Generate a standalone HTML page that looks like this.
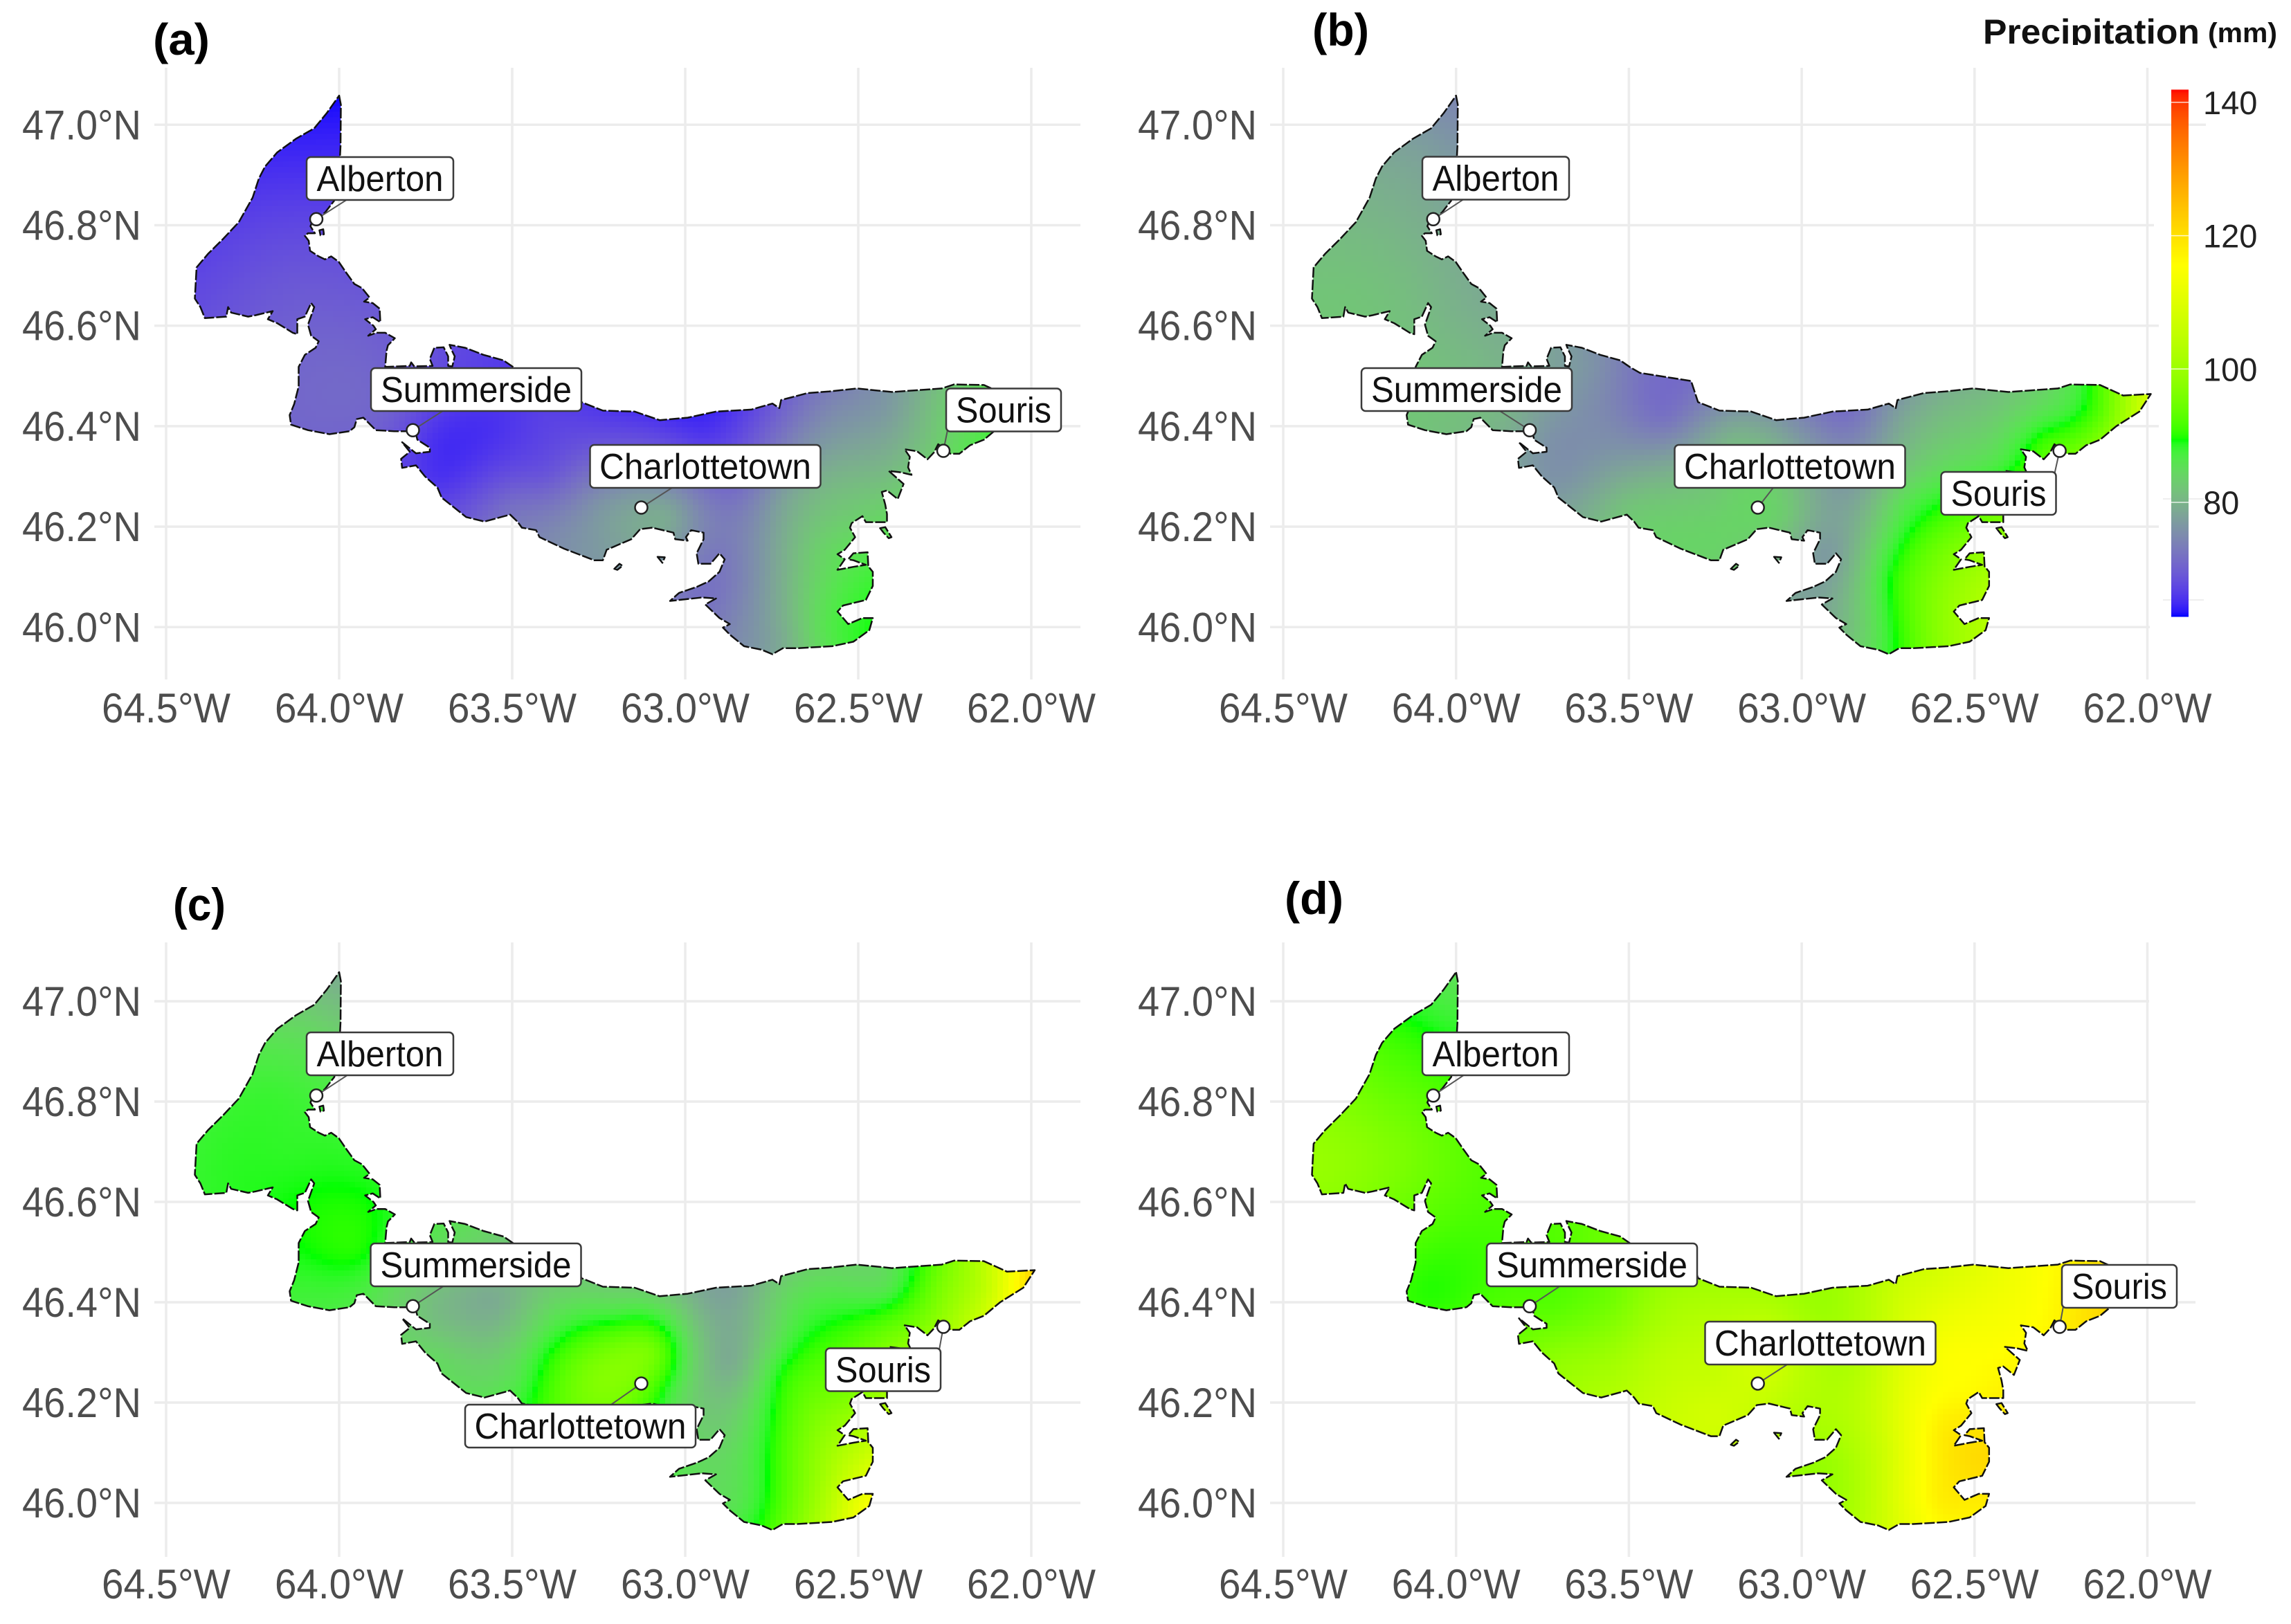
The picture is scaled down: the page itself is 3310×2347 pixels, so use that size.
<!DOCTYPE html>
<html lang="en">
<head>
<meta charset="utf-8">
<title>Precipitation maps of Prince Edward Island</title>
<style>
html,body{margin:0;padding:0;background:#fff;}
body{width:3310px;height:2347px;overflow:hidden;}
svg{display:block;font-family:"Liberation Sans",sans-serif;}
</style>
</head>
<body>
<svg id="figure" xmlns="http://www.w3.org/2000/svg" width="3310" height="2347" viewBox="0 0 3310 2347">
  <rect x="0" y="0" width="3310" height="2347" fill="#ffffff"/>
  <g id="panels"></g>
  <g id="legend">
    <text x="2865" y="63" font-size="50" font-weight="700" fill="#111" textLength="313" lengthAdjust="spacingAndGlyphs">Precipitation</text>
    <text x="3190" y="61" font-size="40" font-weight="700" fill="#111" textLength="100" lengthAdjust="spacingAndGlyphs">(mm)</text>
    <rect x="2860" y="65" width="320" height="14" fill="#ffffff"/>
  </g>
  <text x="221" y="79" font-size="64" font-weight="700" fill="#000" textLength="82" lengthAdjust="spacingAndGlyphs">(a)</text>
  <text x="1896" y="66" font-size="66" font-weight="700" fill="#000" textLength="82" lengthAdjust="spacingAndGlyphs">(b)</text>
  <text x="250" y="1330" font-size="66" font-weight="700" fill="#000" textLength="76" lengthAdjust="spacingAndGlyphs">(c)</text>
  <text x="1856" y="1321" font-size="66" font-weight="700" fill="#000" textLength="85" lengthAdjust="spacingAndGlyphs">(d)</text>
</svg>
<script>
// ---------- axis data ----------
const lonTicks = [-64.5, -64, -63.5, -63, -62.5, -62];
const lonTickLabels = ['64.5°W', '64.0°W', '63.5°W', '63.0°W', '62.5°W', '62.0°W'];
const latTicks = [47, 46.8, 46.6, 46.4, 46.2, 46];
const latTickLabels = ['47.0°N', '46.8°N', '46.6°N', '46.4°N', '46.2°N', '46.0°N'];

// ---------- colour scale data ----------
const legendTicks = [140, 120, 100, 80];
const legendLimits = [62.9, 141.9];
const colourStopValues = [63, 89.4, 115.6, 142];
const colourStopColours = ['#0000ff', '#00ff00', '#ffff00', '#ff0000'];

// ---------- towns ----------
const townNames = ['Alberton', 'Summerside', 'Charlottetown', 'Souris'];
const townLon = [-64.066, -63.787, -63.127, -62.254];
const townLat = [46.812, 46.392, 46.238, 46.351];

// ---------- coastline (lon, lat) ----------
const coast = [
[-64.000,47.058],[-63.995,47.040],[-63.996,46.958],[-63.998,46.931],[-64.001,46.893],[-64.014,46.849],
[-64.041,46.825],[-64.054,46.819],[-64.072,46.817],[-64.083,46.798],[-64.070,46.784],[-64.090,46.784],
[-64.099,46.779],[-64.088,46.769],[-64.084,46.749],[-64.059,46.738],[-64.041,46.732],[-64.023,46.738],
[-64.001,46.727],[-63.979,46.705],[-63.956,46.683],[-63.934,46.675],[-63.912,46.656],[-63.928,46.648],
[-63.903,46.645],[-63.883,46.634],[-63.881,46.607],[-63.903,46.617],[-63.925,46.613],[-63.901,46.600],
[-63.894,46.593],[-63.916,46.580],[-63.892,46.586],[-63.867,46.586],[-63.839,46.575],[-63.859,46.561],
[-63.863,46.550],[-63.867,46.518],[-63.796,46.520],[-63.792,46.527],[-63.783,46.519],[-63.730,46.520],
[-63.738,46.534],[-63.725,46.556],[-63.698,46.557],[-63.685,46.539],[-63.685,46.520],[-63.673,46.519],
[-63.666,46.539],[-63.676,46.553],[-63.681,46.562],[-63.636,46.556],[-63.583,46.542],[-63.525,46.531],
[-63.498,46.518],[-63.468,46.506],[-63.320,46.490],[-63.300,46.448],[-63.238,46.431],[-63.146,46.429],
[-63.074,46.412],[-62.993,46.417],[-62.911,46.429],[-62.809,46.433],[-62.748,46.445],[-62.728,46.436],
[-62.723,46.452],[-62.646,46.466],[-62.585,46.469],[-62.504,46.475],[-62.402,46.468],[-62.259,46.475],
[-62.223,46.483],[-62.137,46.482],[-62.070,46.461],[-61.990,46.464],[-62.023,46.429],[-62.090,46.400],
[-62.137,46.373],[-62.177,46.362],[-62.208,46.345],[-62.233,46.345],[-62.269,46.364],[-62.281,46.348],
[-62.300,46.334],[-62.330,46.350],[-62.366,46.354],[-62.351,46.339],[-62.356,46.318],[-62.346,46.303],
[-62.376,46.308],[-62.412,46.311],[-62.369,46.285],[-62.386,46.255],[-62.417,46.272],[-62.432,46.269],
[-62.422,46.244],[-62.417,46.225],[-62.417,46.209],[-62.478,46.209],[-62.488,46.221],[-62.519,46.207],
[-62.524,46.198],[-62.509,46.179],[-62.539,46.154],[-62.560,46.145],[-62.539,46.135],[-62.560,46.114],
[-62.514,46.120],[-62.478,46.124],[-62.514,46.133],[-62.529,46.135],[-62.514,46.147],[-62.473,46.149],
[-62.471,46.121],[-62.458,46.110],[-62.458,46.082],[-62.478,46.054],[-62.544,46.043],[-62.560,46.031],
[-62.529,46.006],[-62.488,46.018],[-62.458,46.018],[-62.468,45.994],[-62.514,45.971],[-62.575,45.962],
[-62.677,45.958],[-62.718,45.958],[-62.748,45.946],[-62.779,45.955],[-62.830,45.962],[-62.871,45.985],
[-62.891,45.999],[-62.871,46.006],[-62.901,46.018],[-62.942,46.045],[-62.911,46.057],[-62.952,46.059],
[-63.044,46.052],[-63.018,46.068],[-62.967,46.080],[-62.932,46.091],[-62.901,46.110],[-62.886,46.135],
[-62.901,46.147],[-62.927,46.126],[-62.962,46.126],[-62.967,46.147],[-62.947,46.175],[-62.947,46.188],
[-62.983,46.193],[-62.998,46.179],[-62.993,46.172],[-63.029,46.175],[-63.034,46.188],[-63.095,46.198],
[-63.130,46.195],[-63.156,46.175],[-63.227,46.154],[-63.238,46.133],[-63.263,46.133],[-63.350,46.156],
[-63.421,46.179],[-63.431,46.193],[-63.472,46.198],[-63.485,46.210],[-63.506,46.224],[-63.580,46.210],
[-63.633,46.219],[-63.704,46.258],[-63.716,46.278],[-63.752,46.300],[-63.778,46.322],[-63.818,46.317],
[-63.821,46.335],[-63.796,46.349],[-63.818,46.368],[-63.778,46.346],[-63.738,46.349],[-63.738,46.357],
[-63.774,46.373],[-63.778,46.384],[-63.792,46.390],[-63.841,46.390],[-63.894,46.392],[-63.930,46.417],
[-63.949,46.414],[-63.956,46.398],[-63.970,46.390],[-64.028,46.384],[-64.090,46.392],[-64.139,46.403],
[-64.143,46.422],[-64.130,46.444],[-64.117,46.479],[-64.117,46.518],[-64.099,46.542],[-64.068,46.556],
[-64.059,46.569],[-64.081,46.580],[-64.090,46.602],[-64.072,46.637],[-64.081,46.645],[-64.099,46.618],
[-64.121,46.613],[-64.121,46.583],[-64.134,46.586],[-64.179,46.605],[-64.206,46.613],[-64.192,46.629],
[-64.241,46.621],[-64.263,46.618],[-64.312,46.626],[-64.321,46.637],[-64.326,46.618],[-64.388,46.615],
[-64.401,46.637],[-64.417,46.654],[-64.412,46.716],[-64.379,46.743],[-64.335,46.773],[-64.290,46.806],
[-64.250,46.855],[-64.232,46.893],[-64.214,46.917],[-64.179,46.945],[-64.125,46.972],[-64.072,46.993],
[-64.036,47.023]
];
const isletEast = [[-62.437,46.197],[-62.422,46.199],[-62.404,46.179],[-62.412,46.177],[-62.427,46.188]];
const isletHarbour = [[-63.205,46.116],[-63.190,46.126],[-63.181,46.122],[-63.196,46.114]];
const isletBay = [[-63.080,46.140],[-63.059,46.139],[-63.066,46.128]];
const isletAlberton = [[-64.057,46.790],[-64.046,46.792],[-64.044,46.782],[-64.054,46.780]];

// ---------- precipitation read at sample locations (mm) ----------
const sampleLon = [-64,-64.1,-64.2,-64.35,-64.15,-64,-63.95,-64.08,-63.85,-63.72,-63.6,-63.55,-63.7,-63.4,-63.4,-63.5,-63.2,-63.25,-63.25,-63.1,-63.05,-62.95,-62.87,-62.87,-62.92,-62.95,-62.85,-62.72,-62.72,-62.75,-62.72,-62.58,-62.58,-62.6,-62.6,-62.47,-62.5,-62.42,-62.42,-62.25,-62.3,-62.13,-62.03,-62.52];
const sampleLat = [47.03,46.93,46.82,46.68,46.7,46.62,46.5,46.43,46.42,46.38,46.52,46.4,46.3,46.42,46.3,46.24,46.38,46.25,46.17,46.3,46.22,46.38,46.42,46.28,46.15,46.07,46,46.42,46.25,46.1,45.97,46.43,46.3,46.15,46,46.08,46,46.43,46.33,46.43,46.37,46.43,46.45,46.22];
const precipA = [63.5,65,67,68,69,70,71,71,70,65.5,67,65.5,65.5,67,69,72,68,76,77,74,79,66,66,71,73,72,75,71,78,78,79,75,80,84,86,88,88.5,77,80,83,82,86,89,83];
const precipB = [75,78,80,82,81,80,81,82,80,76,76,75,76,72,80,82,80,83,84,83,83,75,72,77,77,78,82,78,85,89,90,81,86,95,98,102,102,83,87,87,91,93,105,93];
const precipC = [80,85,88,88.5,88.5,89.5,90,88,85,81,84,79,84,83,89,86,87,97,95,96,88,80,78,79,83,85,86,84,90,90,93,86,92,98,102,108,112,86,95,97,96,105,118,96];
const precipD = [86,90,94,99,96,93,91,90,92,93,94,95,98,100,104,103,103,106,108,108,105,100,101,102,102,99,102,107,110,108,110,110,115,118,118,121,118,113,115,117,116,121,122,116];

// ---------- layout ----------
const panelLayouts = [
  {id:'a', values:precipA, x0:240, kx:500, y0:180.3, ky:726, gridL:223, gridR:[1561,1561,1561,1561,1561,1561], gridT:98, gridB:982, xLabelY:1044,
   boxes:[[549,258],[688,563],[1019,674],[1450,592.5]]},
  {id:'b', values:precipB, x0:1854, kx:499.4, y0:180.3, ky:726, gridL:1835, gridR:[3187,3112,3119,3119,3119,3106], gridT:98, gridB:982, xLabelY:1044,
   boxes:[[2161,257.5],[2119,563],[2586,674],[2887.5,713]]},
  {id:'c', values:precipC, x0:240, kx:500, y0:1447, ky:725, gridL:223, gridR:[1561,1561,1561,1561,1561,1561], gridT:1362, gridB:2250, xLabelY:2310,
   boxes:[[549,1523],[687.5,1828],[838.5,2061],[1276,1979.5]]},
  {id:'d', values:precipD, x0:1854, kx:499.4, y0:1447, ky:725, gridL:1835, gridR:[3105,3105,3172,3172,3172,3172], gridT:1362, gridB:2250, xLabelY:2310,
   boxes:[[2161,1523],[2300,1828],[2630,1941],[3062,1859]]}
];
const boxWidths = [212, 304, 333, 166];
const boxHeight = 62;
const labelWidths = [183, 276, 306, 138];
const CELL = 8;

const NS = 'http://www.w3.org/2000/svg';
function mk(tag, attrs, parent){
  const el = document.createElementNS(NS, tag);
  for (const k in attrs) el.setAttribute(k, attrs[k]);
  parent.appendChild(el);
  return el;
}

// ---------- Lab colour interpolation ----------
function hexToLab(hex){
  const c = [1,3,5].map(i => parseInt(hex.substr(i,2),16)/255).map(v => v>0.04045?Math.pow((v+0.055)/1.055,2.4):v/12.92);
  const X=(0.4124564*c[0]+0.3575761*c[1]+0.1804375*c[2])/0.95047;
  const Y=(0.2126729*c[0]+0.7151522*c[1]+0.0721750*c[2]);
  const Z=(0.0193339*c[0]+0.1191920*c[1]+0.9503041*c[2])/1.08883;
  const f=t=>t>0.008856?Math.cbrt(t):7.787*t+16/116;
  return [116*f(Y)-16,500*(f(X)-f(Y)),200*(f(Y)-f(Z))];
}
function labToRgb(l){
  const fy=(l[0]+16)/116, fx=l[1]/500+fy, fz=fy-l[2]/200;
  const g=t=>t*t*t>0.008856?t*t*t:(t-16/116)/7.787;
  const X=g(fx)*0.95047,Y=g(fy),Z=g(fz)*1.08883;
  const lin=[3.2404542*X-1.5371385*Y-0.4985314*Z,-0.9692660*X+1.8760108*Y+0.0415560*Z,0.0556434*X-0.2040259*Y+1.0572252*Z];
  const out=lin.map(v=>{v=Math.max(0,Math.min(1,v));return Math.round(255*(v>0.0031308?1.055*Math.pow(v,1/2.4)-0.055:12.92*v));});
  return 'rgb('+out.join(',')+')';
}
const stopLabs = colourStopColours.map(hexToLab);
function colourOf(v){
  const s = colourStopValues;
  if (v<=s[0]) return labToRgb(stopLabs[0]);
  for (let i=1;i<s.length;i++){
    if (v<=s[i]){
      const t=(v-s[i-1])/(s[i]-s[i-1]);
      return labToRgb(stopLabs[i-1].map((a,j)=>a+(stopLabs[i][j]-a)*t));
    }
  }
  return labToRgb(stopLabs[stopLabs.length-1]);
}

// ---------- smooth surface through the sampled precipitation (thin-plate spline) ----------
const LAT_STRETCH = 1.45;
const SMOOTHING = 0.0012;
function tpsKernel(r2){
  return r2 > 1e-12 ? 0.5 * r2 * Math.log(r2) : 0;
}
function fitSurface(values){
  const n = values.length, m = n + 3;
  const A = [];
  for (let i=0;i<m;i++){
    const row = new Array(m + 1).fill(0);
    if (i < n){
      for (let j=0;j<n;j++){
        const dx = sampleLon[i]-sampleLon[j], dy = (sampleLat[i]-sampleLat[j])*LAT_STRETCH;
        row[j] = tpsKernel(dx*dx+dy*dy) + (i===j ? SMOOTHING : 0);
      }
      row[n] = 1;
      row[n+1] = sampleLon[i]+63;
      row[n+2] = (sampleLat[i]-46.4)*LAT_STRETCH;
      row[m] = values[i];
    } else {
      for (let j=0;j<n;j++){
        row[j] = i===n ? 1 : (i===n+1 ? sampleLon[j]+63 : (sampleLat[j]-46.4)*LAT_STRETCH);
      }
    }
    A.push(row);
  }
  for (let c=0;c<m;c++){
    let piv=c;
    for (let r=c+1;r<m;r++) if (Math.abs(A[r][c])>Math.abs(A[piv][c])) piv=r;
    const tmp=A[c]; A[c]=A[piv]; A[piv]=tmp;
    for (let r=c+1;r<m;r++){
      const f=A[r][c]/A[c][c];
      if (f!==0) for (let k=c;k<=m;k++) A[r][k]-=f*A[c][k];
    }
  }
  const w = new Array(m).fill(0);
  for (let r=m-1;r>=0;r--){
    let s=A[r][m];
    for (let k=r+1;k<m;k++) s-=A[r][k]*w[k];
    w[r]=s/A[r][r];
  }
  return w;
}
function surfaceAt(w, lon, lat){
  const n = sampleLon.length;
  let v = w[n] + w[n+1]*(lon+63) + w[n+2]*(lat-46.4)*LAT_STRETCH;
  for (let i=0;i<n;i++){
    const dx=lon-sampleLon[i], dy=(lat-sampleLat[i])*LAT_STRETCH;
    v += w[i]*tpsKernel(dx*dx+dy*dy);
  }
  return v;
}

// ---------- geometry ----------
const rings = [coast, isletEast, isletHarbour, isletBay, isletAlberton];
function insideRing(ring, lon, lat){
  let c=false;
  for (let i=0,j=ring.length-1;i<ring.length;j=i++){
    const a=ring[i], b=ring[j];
    if ((a[1]>lat)!==(b[1]>lat) && lon<(b[0]-a[0])*(lat-a[1])/(b[1]-a[1])+a[0]) c=!c;
  }
  return c;
}
function onLand(lon, lat){
  for (const r of rings) if (insideRing(r,lon,lat)) return true;
  return false;
}

// ---------- panels ----------
const panelsRoot = document.getElementById('panels');
panelLayouts.forEach(function(p){
  const xS = lon => p.x0 + (lon + 64.5) * p.kx;
  const yS = lat => p.y0 + (47 - lat) * p.ky;
  const xInv = x => (x - p.x0) / p.kx - 64.5;
  const yInv = y => 47 - (y - p.y0) / p.ky;

  const g = mk('g', {}, panelsRoot);
  
  

  // gridlines
  lonTicks.forEach(function(lon, i){
    const l = mk('line', {x1:xS(lon), x2:xS(lon), y1:p.gridT, y2:p.gridB, stroke:'#ececec', 'stroke-width':3.5}, g);
    
    
    const t = mk('text', {x:xS(lon), y:p.xLabelY, 'text-anchor':'middle', 'font-size':60, fill:'#4d4d4d', textLength:186, lengthAdjust:'spacingAndGlyphs'}, g);
    t.textContent = lonTickLabels[i];
    
    
  });
  latTicks.forEach(function(lat, i){
    const l = mk('line', {x1:p.gridL, x2:p.gridR[i], y1:yS(lat), y2:yS(lat), stroke:'#ececec', 'stroke-width':3.5}, g);
    
    
    const t = mk('text', {x:p.gridL-19, y:yS(lat)+21, 'text-anchor':'end', 'font-size':60, fill:'#4d4d4d', textLength:172, lengthAdjust:'spacingAndGlyphs'}, g);
    t.textContent = latTickLabels[i];
    
    
  });

  // clip + coast path
  const d = rings.map(r => 'M' + r.map(q => xS(q[0]).toFixed(1) + ' ' + yS(q[1]).toFixed(1)).join('L') + 'Z').join('');
  const clip = mk('clipPath', {id:'clip-' + p.id}, g);
  mk('path', {d:d, 'clip-rule':'evenodd'}, clip);

  // heat cells
  const surface = fitSurface(p.values);
  const heat = mk('g', {'clip-path':'url(#clip-' + p.id + ')', 'shape-rendering':'crispEdges'}, g);
  
  
  const xStart = xS(-64.45), xEnd = xS(-61.97), yStart = yS(47.07), yEnd = yS(45.93);
  for (let y=yStart; y<yEnd; y+=CELL){
    for (let x=xStart; x<xEnd; x+=CELL){
      const la0=yInv(y), la1=yInv(y+CELL), la2=yInv(y+CELL/2), lo0=xInv(x), lo1=xInv(x+CELL), lo2=xInv(x+CELL/2);
      if (!(onLand(lo2,la2)||onLand(lo0,la0)||onLand(lo1,la0)||onLand(lo0,la1)||onLand(lo1,la1))) continue;
      const c = mk('rect', {x:x.toFixed(1), y:y.toFixed(1), width:CELL+0.6, height:CELL+0.6, fill:colourOf(surfaceAt(surface, lo2, la2))}, heat);
      
      
    }
  }

  // coast outline
  const outline = mk('path', {d:d, fill:'none', stroke:'#111', 'stroke-width':2.5, 'stroke-dasharray':'15 3', 'stroke-linejoin':'round'}, g);
  
  

  // towns
  townNames.forEach(function(name, i){
    const mx=xS(townLon[i]), my=yS(townLat[i]), b=p.boxes[i], w=boxWidths[i];
    let tx=b[0], ty=b[1];
    if (name==='Souris'){
      tx=Math.max(b[0]-w/2+2, Math.min(b[0]+w/2-2, mx));
      ty=Math.max(b[1]-boxHeight/2+2, Math.min(b[1]+boxHeight/2-2, my));
    }
    const seg = mk('line', {x1:mx, y1:my, x2:tx, y2:ty, stroke:'#555', 'stroke-width':2}, g);
    
    
    const dot = mk('ellipse', {cx:mx, cy:my, rx:9, ry:9, fill:'#fff', stroke:'#222', 'stroke-width':2.5}, g);
    
    
    const box = mk('rect', {x:b[0]-w/2, y:b[1]-boxHeight/2, width:w, height:boxHeight, rx:6, ry:6, fill:'#fff', stroke:'#3a3a3a', 'stroke-width':2.5}, g);
    
    
    const txt = mk('text', {x:b[0], y:b[1]+18, 'text-anchor':'middle', 'font-size':52, fill:'#111', textLength:labelWidths[i], lengthAdjust:'spacingAndGlyphs'}, g);
    txt.textContent = name;
    
    
  });
});

// ---------- legend ----------
const legendRoot = document.getElementById('legend');
const legendY = v => 726 - (v - 80) * 9.635;
for (let v=legendLimits[0]; v<legendLimits[1]; v+=0.25){
  const s = mk('rect', {x:3137, y:legendY(v+0.25).toFixed(2), width:25, height:3.2, fill:colourOf(v+0.125), 'shape-rendering':'crispEdges'}, legendRoot);
  
  
}
legendTicks.forEach(function(v){
  const tick = mk('line', {x1:3137, x2:3162, y1:legendY(v), y2:legendY(v), stroke:'#fff', 'stroke-width':1.5, opacity:0.8}, legendRoot);
  
  
  const t = mk('text', {x:3183, y:legendY(v)+17, 'font-size':47, fill:'#222'}, legendRoot);
  t.textContent = String(v);
  
  
});
[721, 867].forEach(function(y){
  const f = mk('line', {x1:3125, x2:3184, y1:y, y2:y, stroke:'#eeeeee', 'stroke-width':2}, legendRoot);
  
  
  legendRoot.insertBefore(f, legendRoot.firstChild);
});
</script>
</body>
</html>
